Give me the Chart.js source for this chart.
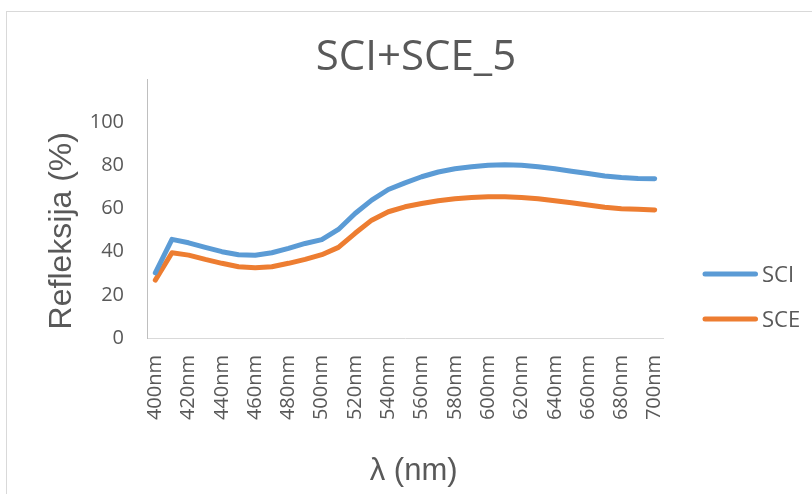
<!DOCTYPE html>
<html>
<head>
<meta charset="utf-8">
<script src="https://cdn.jsdelivr.net/npm/chart.js@4/dist/chart.umd.min.js"></script>
<style>
  html, body { margin: 0; padding: 0; background: #ffffff; }
  canvas { display: block; }
</style>
</head>
<body>
<canvas id="c" width="812" height="494"></canvas>
<script>
const categories = ["400nm","410nm","420nm","430nm","440nm","450nm","460nm","470nm","480nm","490nm",
  "500nm","510nm","520nm","530nm","540nm","550nm","560nm","570nm","580nm","590nm",
  "600nm","610nm","620nm","630nm","640nm","650nm","660nm","670nm","680nm","690nm","700nm"];
const sciValues = [30.2, 45.7, 44.1, 42.0, 40.0, 38.6, 38.3, 39.5, 41.5, 43.8,
  45.6, 50.3, 57.7, 63.9, 68.8, 71.9, 74.7, 76.9, 78.4, 79.3,
  80.0, 80.3, 80.0, 79.3, 78.4, 77.3, 76.2, 75.1, 74.4, 73.9, 73.8];
const sceValues = [26.8, 39.5, 38.4, 36.4, 34.6, 33.0, 32.6, 33.0, 34.6, 36.4,
  38.6, 42.0, 48.5, 54.6, 58.5, 60.8, 62.3, 63.6, 64.5, 65.1,
  65.4, 65.4, 65.1, 64.5, 63.6, 62.7, 61.6, 60.6, 59.9, 59.6, 59.3];
const seriesNames = ["SCI", "SCE"];
const yTicks = [0, 20, 40, 60, 80, 100];
const chartTitle = "SCI+SCE_5";
const xTitle = "λ (nm)";
const yTitle = "Refleksija (%)";

const textGray = "#595959";

const framePlugin = {
  id: 'frame',
  beforeDraw(chart) {
    const ctx = chart.ctx;
    ctx.save();
    ctx.strokeStyle = '#d9d9d9';
    ctx.lineWidth = 1;
    ctx.strokeRect(6.5, 11.5, 1000, 1000);
    ctx.restore();
  }
};

const sideLegend = {
  id: 'sideLegend',
  afterDraw(chart) {
    const ctx = chart.ctx;
    ctx.save();
    chart.data.datasets.forEach((ds, i) => {
      const y = 274 + i * 45;
      ctx.strokeStyle = ds.borderColor;
      ctx.lineWidth = ds.borderWidth;
      ctx.lineCap = 'round';
      ctx.beginPath();
      ctx.moveTo(705, y);
      ctx.lineTo(755.5, y);
      ctx.stroke();
      ctx.fillStyle = textGray;
      ctx.font = '22px "Open Sans"';
      ctx.textBaseline = 'alphabetic';
      ctx.textAlign = 'left';
      ctx.fillText(ds.label, 762, y + 8);
    });
    ctx.restore();
  }
};

new Chart(document.getElementById('c'), {
  type: 'line',
  data: {
    labels: categories,
    datasets: [
      { label: seriesNames[0], data: sciValues, borderColor: '#5B9BD5', backgroundColor: '#5B9BD5',
        borderWidth: 5, pointRadius: 0, tension: 0, borderCapStyle: 'round', borderJoinStyle: 'round' },
      { label: seriesNames[1], data: sceValues, borderColor: '#ED7D31', backgroundColor: '#ED7D31',
        borderWidth: 5, pointRadius: 0, tension: 0, borderCapStyle: 'round', borderJoinStyle: 'round' }
    ]
  },
  options: {
    responsive: false,
    animation: false,
    layout: { padding: { left: 0, right: 149, top: 0, bottom: 0 } },
    plugins: {
      legend: { display: false },
      tooltip: { enabled: false },
      title: {
        display: true,
        fullSize: false,
        text: '  ' + chartTitle,
        color: textGray,
        font: { family: '"Open Sans"', size: 42, weight: 'normal', lineHeight: 1.0 },
        padding: { top: 37, bottom: 0 }
      }
    },
    scales: {
      x: {
        offset: true,
        grid: { display: false, drawTicks: false },
        border: { display: true, color: '#d9d9d9', width: 1 },
        ticks: {
          autoSkip: false, maxRotation: 90, minRotation: 90, padding: 17,
          color: textGray, font: { family: '"Open Sans"', size: 20 },
          callback: function(value, index) { return index % 2 === 0 ? categories[index] : ''; }
        },
        title: {
          display: true, text: '  ' + xTitle, color: textGray,
          font: { family: '"Liberation Sans", Arial', size: 31 },
          padding: { top: 0, bottom: 4 }
        },
        afterFit(scale) { scale.height = 156; }
      },
      y: {
        min: 0, max: 120,
        grid: { display: false, drawTicks: false },
        border: { display: true, color: '#bfbfbf', width: 1 },
        ticks: {
          stepSize: 20, padding: 23, color: textGray,
          font: { family: '"Open Sans"', size: 20 },
          callback: function(value) { return yTicks.includes(value) ? String(value) : ''; }
        },
        title: {
          display: true, text: yTitle + '     ', color: textGray,
          font: { family: '"Liberation Sans", Arial', size: 32 },
          padding: { top: 43, bottom: 0 }
        },
        afterFit(scale) { scale.width = 147; }
      }
    }
  },
  plugins: [framePlugin, sideLegend]
});
</script>
</body>
</html>
